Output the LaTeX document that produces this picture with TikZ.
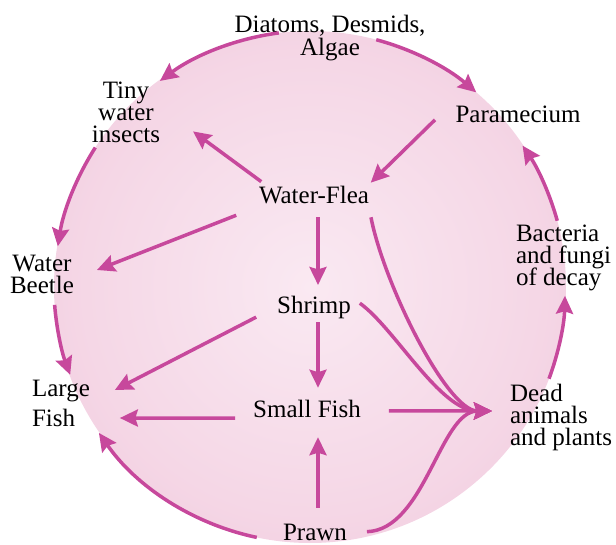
\documentclass[tikz,border=0pt]{standalone}
\usepackage{fontspec}
\setmainfont{Liberation Serif}
\usepackage{tikz}
\usetikzlibrary{arrows.meta, calc, shapes.geometric}
\usepackage{xcolor}

\definecolor{pondIn}{RGB}{250,233,242}
\definecolor{pondMid}{RGB}{245,215,230}
\definecolor{pondOut}{RGB}{237,184,210}
\definecolor{flowPink}{RGB}{199,72,156}

\pgfdeclareradialshading{pondGlow}{\pgfpoint{0bp}{0bp}}{color(0bp)=(pondIn); color(22bp)=(pondMid); color(50bp)=(pondOut)}

\newcommand{\orgFont}{\fontsize{25}{22}\selectfont\lineskiplimit=-30pt\relax}
\newcommand{\orgFontTop}{\fontsize{25}{23}\selectfont\lineskiplimit=-30pt\relax}
\newcommand{\orgFontWide}{\fontsize{25}{30}\selectfont\lineskiplimit=-30pt\relax}

\tikzset{
    >={Stealth[length=18pt, width=17pt, inset=2.5pt]},
    % Pond
    pondFill/.style={circle, minimum size=512, inner sep=0pt, outer sep=0pt, shade, shading=pondGlow},
    % Labels
    org/.style={inner sep=0pt, outer sep=0pt, align=center, font=\orgFont, text=black},
    orgLeft/.style={org, align=left, anchor=west},
    % Flow
    flow/.style={->, line width=3.5pt, draw=flowPink}
}

\begin{document}
\begin{tikzpicture}[x=1pt, y=1pt]
\useasboundingbox (0,0) rectangle (616,544);

\node[pondFill] (pond) at (310,257) {};

\node[org, font=\orgFontTop] (diatoms) at (330,506.3) {Diatoms, Desmids,\\Algae};
\node[org] (insects) at (126,431.5) {Tiny\\water\\insects};
\node[org] (paramecium) at (518,429.6) {Paramecium};
\node[org] (waterflea) at (314,348.6) {Water-Flea};
\node[org] (beetle) at (42,269.5) {Water\\Beetle};
\node[orgLeft] (bacteria) at (516,285.8) {Bacteria\\and fungi\\of decay};
\node[org] (shrimp) at (314,236.8) {Shrimp};
\node[orgLeft, font=\orgFontWide] (large) at (32,140.3) {Large\\Fish};
\node[org] (smallfish) at (307,134.6) {Small Fish};
\node[orgLeft] (dead) at (510,126.8) {Dead\\animals\\and plants};
\node[org] (prawn) at (315,11.8) {Prawn};

\coordinate (sink) at ($(dead.west)+(-18,6.2)$);

\draw[flow] ($(paramecium.south west)+(-20.5,3)$) -- ($(waterflea.north east)+(1.8,3.9)$);
\draw[flow] ($(waterflea.north west)+(2.2,4.9)$) -- ($(insects.east)+(33,-18.9)$);
\draw[flow] ($(waterflea.south west)+(-22.8,-11)$) -- ($(beetle.east)+(23,4.5)$);
\draw[flow] ($(waterflea.south)+(4,-13)$) -- ($(shrimp.north)+(4,10.9)$);
\draw[flow] ($(shrimp.south)+(4,-3.6)$) -- ($(smallfish.north)+(11,12.9)$);
\draw[flow] ($(shrimp.south west)+(-21,1.4)$) -- ($(large.east)+(25,13.7)$);
\draw[flow] ($(smallfish.south west)+(-18,0)$) -- ($(large.east)+(30,-14.3)$);
\draw[flow] ($(prawn.north)+(3,16)$) -- ($(smallfish.south)+(11,-19)$);
\draw[flow] ($(smallfish.east)+(28,-1.5)$) -- (sink);

\draw[flow] ($(waterflea.south east)+(2,-13)$) .. controls +(13,-67) and +(-45,0) .. (sink);
\draw[flow] ($(shrimp.east)+(9,4)$) .. controls +(35,-25) and +(-52,0) .. (sink);
\draw[flow] ($(prawn.east)+(20,0.5)$) .. controls +(58,2) and +(-52,0) .. (sink);

\draw[flow] (pond.97.5) arc[start angle=97.5, end angle=126.5, radius=256];
\draw[flow] (pond.75) arc[start angle=75, end angle=49.5, radius=256];
\draw[flow] (pond.147.3) arc[start angle=147.3, end angle=171.1, radius=256];
\draw[flow] (pond.184.5) arc[start angle=184.5, end angle=200.6, radius=256];
\draw[flow] (pond.258.2) arc[start angle=258.2, end angle=214.8, radius=256];
\draw[flow] (pond.339.6) arc[start angle=339.6, end angle=358.6, radius=256];
\draw[flow] (pond.15.5) arc[start angle=15.5, end angle=34.1, radius=256];

\end{tikzpicture}
\end{document}
